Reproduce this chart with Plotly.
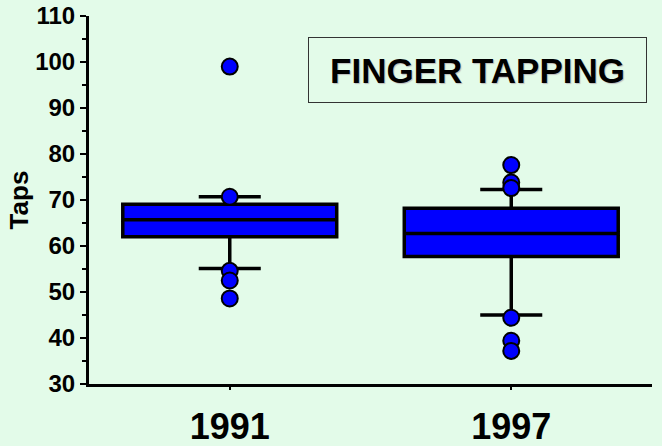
import plotly.graph_objects as go

# box statistics (taps)
years = ["1991", "1997"]
q1 = [62.0, 57.7]
median = [65.7, 62.7]
q3 = [69.1, 68.2]
lower_fence = [55.1, 45.0]
upper_fence = [70.7, 72.3]

# individual outlying points
out_years = ["1991", "1991", "1991", "1991", "1991",
             "1997", "1997", "1997", "1997", "1997", "1997"]
out_taps = [99.0, 70.7, 54.6, 52.5, 48.6,
            77.6, 73.8, 72.6, 44.4, 39.4, 37.2]

bg = "#e3fbe9"
font_family = "Liberation Sans, Arial, sans-serif"

fig = go.Figure()

fig.add_trace(go.Box(
    x=years, q1=q1, median=median, q3=q3,
    lowerfence=lower_fence, upperfence=upper_fence,
    fillcolor="#0000ff", line=dict(color="black", width=3.5),
    width=0.76, whiskerwidth=0.29, boxpoints=False,
    showlegend=False, hoverinfo="skip"))

fig.add_trace(go.Scatter(
    x=out_years, y=out_taps, mode="markers",
    marker=dict(size=16, color="#0000ff", line=dict(color="black", width=2)),
    showlegend=False))

fig.update_xaxes(
    type="category", range=[-0.5, 1.5], automargin=False,
    showline=True, linecolor="black", linewidth=3,
    ticks="outside", ticklen=3, tickwidth=2, tickcolor="black",
    ticklabelstandoff=6,
    tickfont=dict(family=font_family, size=36, color="black", weight="bold"),
    showgrid=False, zeroline=False)

fig.update_yaxes(
    range=[30, 110], dtick=10, tick0=30, automargin=False,
    showline=True, linecolor="black", linewidth=3,
    ticks="outside", ticklen=6, tickwidth=2, tickcolor="black",
    minor=dict(ticks="outside", ticklen=4, tickwidth=2, dtick=5, tickcolor="black"),
    tickfont=dict(family=font_family, size=24, color="black", weight="bold"),
    title=dict(text="Taps", standoff=0,
               font=dict(family=font_family, size=26, color="black", weight="bold")),
    showgrid=False, zeroline=False)

fig.add_annotation(
    text="FINGER TAPPING", xref="paper", yref="paper",
    x=0.69, y=0.853, xanchor="center", yanchor="middle",
    width=335, height=62, showarrow=False,
    bordercolor="#333333", borderwidth=1,
    font=dict(family=font_family, size=35, color="black", weight="bold",
              shadow="1px 1px 1px #bbbbbb"))

fig.update_layout(
    width=662, height=446,
    paper_bgcolor=bg, plot_bgcolor=bg,
    margin=dict(l=89, r=10, t=16, b=62),
)

# the page body has a default 8px margin; drop it so the figure fills the window
fig.write_html("out.html", config={"displayModeBar": False},
               post_script="document.body.style.margin='0';"
                           "document.body.style.background='%s';" % bg)
